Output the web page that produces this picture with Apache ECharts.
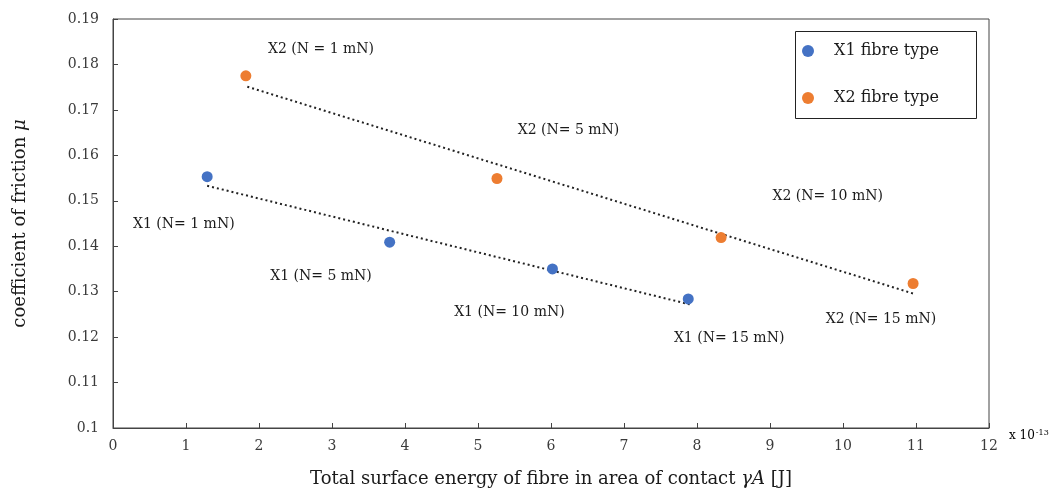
<!DOCTYPE html>
<html>
<head>
<meta charset="utf-8">
<script src="https://cdn.jsdelivr.net/npm/echarts@6/dist/echarts.min.js"></script>
<style>
  html, body { margin: 0; padding: 0; background: #fff; }
  #main { width: 1058px; height: 495px; }
</style>
</head>
<body>
<div id="main"></div>
<script>
// measured points, x in units of 1e-13 J
var x1Energy = [1.29, 3.79, 6.02, 7.88];
var x1Friction = [0.1553, 0.1409, 0.1350, 0.1284];
var x2Energy = [1.82, 5.26, 8.33, 10.96];
var x2Friction = [0.1775, 0.1549, 0.1419, 0.1318];

// dotted trend line end points
var x1TrendX = [1.29, 7.90];
var x1TrendY = [0.1533, 0.1272];
var x2TrendX = [1.84, 10.96];
var x2TrendY = [0.1751, 0.1296];

// annotation text and where it sits (data coords)
var x1Labels = ['X1 (N= 1 mN)', 'X1 (N= 5 mN)', 'X1 (N= 10 mN)', 'X1 (N= 15 mN)'];
var x1LabelX = [0.97, 2.85, 5.43, 8.44];
var x1LabelY = [0.1449, 0.1334, 0.1255, 0.1198];
var x2Labels = ['X2 (N = 1 mN)', 'X2 (N= 5 mN)', 'X2 (N= 10 mN)', 'X2 (N= 15 mN)'];
var x2LabelX = [2.85, 6.24, 9.79, 10.52];
var x2LabelY = [0.1834, 0.1654, 0.1510, 0.1238];

var xTicks = [0, 1, 2, 3, 4, 5, 6, 7, 8, 9, 10, 11, 12];
var yTicks = [0.1, 0.11, 0.12, 0.13, 0.14, 0.15, 0.16, 0.17, 0.18, 0.19];

var serif = 'DejaVu Serif';

function pairs(xs, ys) {
  var out = [];
  for (var i = 0; i < xs.length; i++) out.push([xs[i], ys[i]]);
  return out;
}

function labelData(xs, ys, names) {
  var out = [];
  for (var i = 0; i < xs.length; i++) out.push({ name: names[i], value: [xs[i], ys[i]] });
  return out;
}

var labelSeries = function (xs, ys, names) {
  return {
    type: 'scatter',
    symbolSize: 0,
    silent: true,
    itemStyle: { opacity: 1 },
    data: labelData(xs, ys, names),
    label: {
      show: true,
      position: 'inside',
      formatter: '{b}',
      fontFamily: serif,
      fontSize: 14,
      color: '#1a1a1a'
    },
    z: 1
  };
};

var myChart = echarts.init(document.getElementById('main'));

var option = {
  animation: false,
  backgroundColor: '#fff',
  grid: {
    left: 113,
    top: 19,
    right: 69,
    bottom: 67,
    show: true,
    borderColor: '#444',
    borderWidth: 1
  },
  legend: {
    orient: 'vertical',
    left: 802,
    top: 43,
    padding: 0,
    itemGap: 31,
    itemWidth: 12,
    itemHeight: 12,
    data: [
      { name: 'X1 fibre type', icon: 'circle' },
      { name: 'X2 fibre type', icon: 'circle' }
    ],
    textStyle: { fontFamily: serif, fontSize: 16, color: '#1a1a1a', padding: [0, 0, 0, 15] }
  },
  xAxis: {
    type: 'value',
    min: xTicks[0],
    max: xTicks[xTicks.length - 1],
    interval: 1,
    name: '{t|Total surface energy of fibre in area of contact }{i|γA}{t| [J]}',
    nameLocation: 'middle',
    nameGap: 42,
    nameTextStyle: {
      rich: {
        t: { fontFamily: serif, fontSize: 18, color: '#1a1a1a' },
        i: { fontFamily: serif, fontSize: 18, color: '#1a1a1a', fontStyle: 'italic' }
      }
    },
    axisLine: { lineStyle: { color: '#444', width: 1 } },
    axisTick: { inside: true, length: 5, lineStyle: { color: '#444' } },
    axisLabel: { fontFamily: serif, fontSize: 14, color: '#3a3a3a', margin: 11 },
    splitLine: { show: false }
  },
  yAxis: {
    type: 'value',
    min: yTicks[0],
    max: yTicks[yTicks.length - 1],
    interval: 0.01,
    name: '{t|coefficient of friction }{i|μ}',
    nameLocation: 'middle',
    nameGap: 84,
    nameRotate: 90,
    nameTextStyle: {
      rich: {
        t: { fontFamily: serif, fontSize: 18, color: '#1a1a1a' },
        i: { fontFamily: serif, fontSize: 18, color: '#1a1a1a', fontStyle: 'italic' }
      }
    },
    axisLine: { show: true, lineStyle: { color: '#444', width: 1 } },
    axisTick: { show: true, inside: true, length: 5, lineStyle: { color: '#444' } },
    axisLabel: {
      fontFamily: serif, fontSize: 14, color: '#3a3a3a', margin: 14,
      formatter: function (v) { return String(parseFloat(v.toFixed(2))); }
    },
    splitLine: { show: false }
  },
  graphic: [
    {
      type: 'rect',
      left: 793,
      top: 29,
      shape: { width: 181, height: 87 },
      style: { fill: 'none', stroke: '#222', lineWidth: 1 },
      z: 10
    },
    {
      type: 'text',
      left: 1009,
      top: 429,
      style: {
        text: '{a|x 10}{s|-13}',
        rich: {
          a: { fontFamily: serif, fontSize: 12, color: '#1a1a1a' },
          s: { fontFamily: serif, fontSize: 8, color: '#1a1a1a', verticalAlign: 'top', padding: [0, 0, 6, 1] }
        }
      }
    }
  ],
  series: [
    {
      type: 'line',
      data: pairs(x1TrendX, x1TrendY),
      symbol: 'none',
      silent: true,
      lineStyle: { color: '#222', width: 2, type: [2, 3] },
      z: 2
    },
    {
      type: 'line',
      data: pairs(x2TrendX, x2TrendY),
      symbol: 'none',
      silent: true,
      lineStyle: { color: '#222', width: 2, type: [2, 3] },
      z: 2
    },
    {
      name: 'X1 fibre type',
      type: 'scatter',
      data: pairs(x1Energy, x1Friction),
      symbol: 'circle',
      symbolSize: 11,
      itemStyle: { color: '#4472C4', opacity: 1 },
      z: 3
    },
    {
      name: 'X2 fibre type',
      type: 'scatter',
      data: pairs(x2Energy, x2Friction),
      symbol: 'circle',
      symbolSize: 11,
      itemStyle: { color: '#ED7D31', opacity: 1 },
      z: 3
    },
    labelSeries(x1LabelX, x1LabelY, x1Labels),
    labelSeries(x2LabelX, x2LabelY, x2Labels)
  ]
};

myChart.setOption(option);
window.onresize = myChart.resize;
</script>
</body>
</html>
